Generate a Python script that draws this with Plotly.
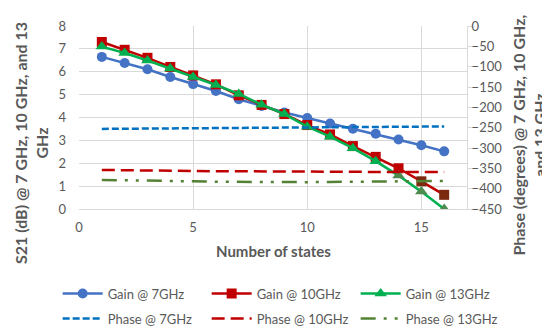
import plotly.graph_objects as go

states = list(range(1, 17))
gain_7 = [6.65, 6.38, 6.11, 5.77, 5.46, 5.16, 4.80, 4.50, 4.22, 3.98, 3.74, 3.51, 3.29, 3.04, 2.79, 2.52]
gain_10 = [7.30, 6.96, 6.61, 6.21, 5.84, 5.45, 4.97, 4.55, 4.15, 3.67, 3.26, 2.75, 2.28, 1.78, 1.21, 0.62]
gain_13 = [7.10, 6.82, 6.49, 6.14, 5.77, 5.42, 5.03, 4.56, 4.15, 3.60, 3.16, 2.66, 2.09, 1.46, 0.76, 0.00]
phase_7 = [-253, -252.5, -252, -251.5, -251, -250.5, -250, -250, -249.5, -249, -249, -248.5, -248, -248, -247.5, -247]
phase_10 = [-354, -355, -355.5, -356, -356.5, -357, -357, -357.5, -358, -358, -358.5, -358.5, -359, -359, -359, -359]
phase_13 = [-378.5, -379, -380, -381, -382, -383, -383.5, -384, -384, -384, -383.5, -383, -382.5, -382, -381.5, -381]

x_ticks = [0, 5, 10, 15]
x_title = "Number of states"
y_title = "S21 (dB) @ 7 GHz, 10 GHz, and 13<br>GHz"
y2_title = "Phase (degrees) @ 7 GHz, 10 GHz,<br>and 13 GHz"

tick_col = "#595959"
grid_col = "#D9D9D9"
font_family = "Lato, 'Open Sans', sans-serif"

red_marker = ["#C00000"] * 14 + ["#7B2A0E"] * 2
green_marker = ["#00B050"] * 13 + ["#4E8B4E"] * 3

fig = go.Figure()
fig.add_trace(go.Scatter(x=states, y=gain_7, name="Gain @ 7GHz", mode="lines+markers", legend="legend",
                         line=dict(color="#4472C4", width=2.5),
                         marker=dict(symbol="circle", size=10, color="#4472C4")))
fig.add_trace(go.Scatter(x=states, y=gain_10, name="Gain @ 10GHz", mode="lines+markers", legend="legend",
                         line=dict(color="#C00000", width=2.5),
                         marker=dict(symbol="square", size=10, color=red_marker)))
fig.add_trace(go.Scatter(x=states, y=gain_13, name="Gain @ 13GHz", mode="lines+markers", legend="legend",
                         line=dict(color="#00B050", width=2.5),
                         marker=dict(symbol="triangle-up", size=11, color=green_marker)))
fig.add_trace(go.Scatter(x=states, y=phase_7, name="Phase @ 7GHz", mode="lines", yaxis="y2", legend="legend2",
                         line=dict(color="#0070C0", width=2.5, dash="7px,3px")))
fig.add_trace(go.Scatter(x=states, y=phase_10, name="Phase @ 10GHz", mode="lines", yaxis="y2", legend="legend2",
                         line=dict(color="#C00000", width=2.5, dash="13px,6px")))
fig.add_trace(go.Scatter(x=states, y=phase_13, name="Phase @ 13GHz", mode="lines", yaxis="y2", legend="legend2",
                         line=dict(color="#548235", width=2.5, dash="15px,8px,3px,8px,3px,8px")))

legend_common = dict(orientation="h", xanchor="left", yanchor="middle",
                     entrywidth=94, entrywidthmode="pixels", font=dict(size=13, color=tick_col),
                     itemwidth=40, bgcolor="rgba(0,0,0,0)")

title_font = dict(family=font_family, size=16, color=tick_col)

fig.update_layout(
    width=550, height=335,
    margin=dict(l=71, r=91, t=10, b=128),
    paper_bgcolor="white", plot_bgcolor="white",
    font=dict(family=font_family, size=13, color=tick_col),
    showlegend=True,
    xaxis=dict(range=[0, 17], tickvals=x_ticks, showgrid=True, gridcolor=grid_col,
               gridwidth=1, zeroline=False, showline=True, linecolor=grid_col, linewidth=1,
               ticks="", ticklabelstandoff=6, tickfont=dict(size=13, color=tick_col)),
    yaxis=dict(range=[0, 8], dtick=1, showgrid=True, gridcolor=grid_col, gridwidth=1,
               zeroline=False, showline=False, ticks="", ticklabelstandoff=12,
               tickfont=dict(size=13, color=tick_col)),
    yaxis2=dict(range=[-450, 0], dtick=50, overlaying="y", side="right", showgrid=False,
                zeroline=False, showline=True, linecolor=grid_col, linewidth=1,
                ticks="outside", ticklen=5, tickcolor=grid_col, ticklabelstandoff=-4,
                tickfont=dict(size=13, color=tick_col)),
    legend=dict(legend_common, x=-0.055, y=(207 - 298) / 197),
    legend2=dict(legend_common, x=-0.055, y=(207 - 325) / 197),
    annotations=[
        dict(text="<b>" + x_title + "</b>", xref="paper", yref="paper",
             x=0.5, y=(207 - 252) / 197, xanchor="center", yanchor="middle",
             showarrow=False, font=dict(family=font_family, size=15, color=tick_col)),
        dict(text="<b>" + y_title + "</b>", xref="paper", yref="paper", textangle=-90,
             x=(23 - 71) / 388, y=(207 - 136) / 197, xanchor="center", yanchor="middle",
             showarrow=False, font=title_font),
        dict(text="<b>" + y2_title + "</b>", xref="paper", yref="paper", textangle=-90,
             x=(521 - 71) / 388, y=(207 - 128) / 197, xanchor="center", yanchor="middle",
             showarrow=False, font=title_font),
    ],
)

fig.write_html("out.html")
